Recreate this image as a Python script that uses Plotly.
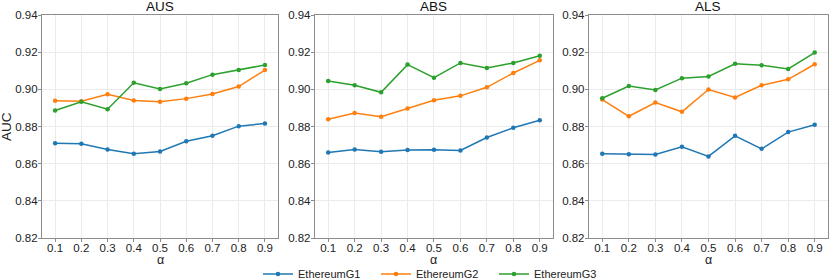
import plotly.graph_objects as go
from plotly.subplots import make_subplots

alpha = [0.1, 0.2, 0.3, 0.4, 0.5, 0.6, 0.7, 0.8, 0.9]
tick_labels = ["0.1", "0.2", "0.3", "0.4", "0.5", "0.6", "0.7", "0.8", "0.9"]
panels = ["AUS", "ABS", "ALS"]
series_names = ["EthereumG1", "EthereumG2", "EthereumG3"]
colors = ["#1f77b4", "#ff7f0e", "#2ca02c"]

aus_g1 = [0.8710, 0.8707, 0.8676, 0.8653, 0.8666, 0.8721, 0.8750, 0.8802, 0.8816]
aus_g2 = [0.8938, 0.8936, 0.8974, 0.8940, 0.8933, 0.8950, 0.8975, 0.9015, 0.9104]
aus_g3 = [0.8886, 0.8933, 0.8893, 0.9035, 0.9002, 0.9033, 0.9079, 0.9104, 0.9131]

abs_g1 = [0.8660, 0.8676, 0.8664, 0.8673, 0.8675, 0.8671, 0.8741, 0.8793, 0.8834]
abs_g2 = [0.8839, 0.8872, 0.8852, 0.8897, 0.8941, 0.8965, 0.9011, 0.9088, 0.9156]
abs_g3 = [0.9045, 0.9022, 0.8984, 0.9133, 0.9063, 0.9142, 0.9115, 0.9142, 0.9181]

als_g1 = [0.8653, 0.8651, 0.8650, 0.8691, 0.8639, 0.8750, 0.8680, 0.8770, 0.8809]
als_g2 = [0.8945, 0.8855, 0.8929, 0.8879, 0.8999, 0.8956, 0.9022, 0.9054, 0.9135]
als_g3 = [0.8952, 0.9018, 0.8997, 0.9060, 0.9069, 0.9137, 0.9130, 0.9110, 0.9198]

y_ticks = [0.82, 0.84, 0.86, 0.88, 0.90, 0.92, 0.94]
y_tick_labels = ["0.82", "0.84", "0.86", "0.88", "0.90", "0.92", "0.94"]

data = [[aus_g1, aus_g2, aus_g3], [abs_g1, abs_g2, abs_g3], [als_g1, als_g2, als_g3]]

fig = make_subplots(rows=1, cols=3, subplot_titles=panels, horizontal_spacing=0.047)

for c, panel_data in enumerate(data):
    for s, vals in enumerate(panel_data):
        fig.add_trace(go.Scatter(
            x=alpha, y=vals, mode="lines+markers", name=series_names[s],
            line=dict(color=colors[s], width=1.5),
            marker=dict(color=colors[s], size=4.5),
            showlegend=(c == 0),
        ), row=1, col=c + 1)

font = "Liberation Sans, Arial, sans-serif"
domains = [[0.0, 0.3003], [0.3473, 0.6501], [0.6959, 1.0]]
for c in range(1, 4):
    fig.update_xaxes(
        domain=domains[c - 1],
        tickvals=alpha, ticktext=tick_labels, range=[0.05, 0.95],
        showline=True, mirror=True, linecolor="#8c8c8c", linewidth=1.3,
        showgrid=True, gridcolor="#ebebeb", gridwidth=1,
        ticks="outside", ticklen=3, tickcolor="#8c8c8c", ticklabelstandoff=-4,
        tickfont=dict(size=11.5, color="#222"), zeroline=False, automargin=False,
        row=1, col=c)
    fig.update_yaxes(
        tickvals=y_ticks, ticktext=y_tick_labels, range=[0.82, 0.94],
        showline=True, mirror=True, linecolor="#8c8c8c", linewidth=1.3,
        showgrid=True, gridcolor="#ebebeb", gridwidth=1,
        ticks="outside", ticklen=3, tickcolor="#8c8c8c", ticklabelstandoff=-2,
        tickfont=dict(size=11.5, color="#222"), zeroline=False, automargin=False,
        row=1, col=c)

# subplot titles
for i, ann in enumerate(fig.layout.annotations):
    ann.font = dict(size=13.5, color="#111", family=font)
    ann.x = sum(domains[i]) / 2
    ann.yshift = -1

# x-axis titles
for i in range(3):
    fig.add_annotation(text="α", x=sum(domains[i]) / 2, xref="paper", y=-0.1, yref="paper",
                       xanchor="center", yanchor="middle", showarrow=False, borderpad=0,
                       font=dict(size=12.5, color="#222", family=font))

fig.add_annotation(text="AUC", x=-0.04, xref="paper", y=0.5, yref="paper",
                   xanchor="center", yanchor="middle", textangle=-90, borderpad=0,
                   showarrow=False, xshift=-4, font=dict(size=13.5, color="#222", family=font))

fig.update_layout(
    width=831, height=280,
    margin=dict(l=42, r=3, t=15, b=42, autoexpand=False),
    plot_bgcolor="white", paper_bgcolor="white",
    font=dict(family=font, color="#222"),
    legend=dict(orientation="h", x=0.5, xanchor="center", yref="container", y=0.0214,
                yanchor="middle", font=dict(size=11), itemwidth=30, tracegroupgap=0,
                entrywidth=73, bgcolor="rgba(0,0,0,0)"),
)

fig.write_html("out.html", config={"displayModeBar": False},
               post_script="document.body.style.margin='0';")
